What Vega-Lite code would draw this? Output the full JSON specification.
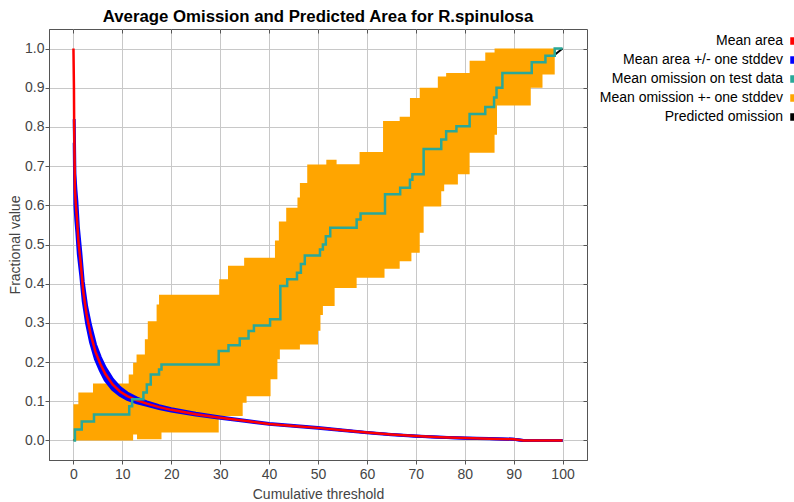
{
  "$schema": "https://vega.github.io/schema/vega-lite/v6.json",
  "width": 538,
  "height": 431,
  "autosize": {"type": "none"},
  "padding": {"left": 49, "top": 29, "right": 207, "bottom": 42},
  "background": "white",
  "title": {
    "text": "Average Omission and Predicted Area for R.spinulosa",
    "font": "Liberation Sans",
    "fontSize": 16.8,
    "fontWeight": "bold",
    "color": "#000000",
    "anchor": "middle",
    "frame": "group",
    "offset": 3
  },
  "config": {
    "view": {"stroke": "#555555", "strokeWidth": 1},
    "axis": {
      "labelFont": "Liberation Sans",
      "labelFontSize": 14,
      "labelColor": "#444444",
      "titleFont": "Liberation Sans",
      "titleFontSize": 14,
      "titleFontWeight": "normal",
      "titleColor": "#444444",
      "gridColor": "#c8c8c8",
      "gridWidth": 1,
      "tickColor": "#555555",
      "domainColor": "#555555",
      "tickSize": 4
    }
  },
  "datasets": {
    "area": [
      {"x": 0, "mean": 1.0, "lo": null, "hi": null},
      {"x": 0.1, "mean": 0.9, "lo": null, "hi": null},
      {"x": 0.15, "mean": 0.8, "lo": 0.76, "hi": 0.82},
      {"x": 0.3, "mean": 0.64, "lo": 0.6, "hi": 0.68},
      {"x": 0.5, "mean": 0.6, "lo": 0.56, "hi": 0.64},
      {"x": 0.7, "mean": 0.57, "lo": 0.53, "hi": 0.61},
      {"x": 1.0, "mean": 0.51, "lo": 0.475, "hi": 0.545},
      {"x": 1.5, "mean": 0.45, "lo": 0.42, "hi": 0.48},
      {"x": 2.0, "mean": 0.38, "lo": 0.355, "hi": 0.405},
      {"x": 2.7, "mean": 0.32, "lo": 0.298, "hi": 0.342},
      {"x": 3.5, "mean": 0.272, "lo": 0.25, "hi": 0.294},
      {"x": 4.5, "mean": 0.226, "lo": 0.207, "hi": 0.245},
      {"x": 5.5, "mean": 0.195, "lo": 0.178, "hi": 0.212},
      {"x": 6.5, "mean": 0.17, "lo": 0.154, "hi": 0.186},
      {"x": 8, "mean": 0.143, "lo": 0.13, "hi": 0.156},
      {"x": 9.5, "mean": 0.125, "lo": 0.115, "hi": 0.135},
      {"x": 11, "mean": 0.113, "lo": 0.105, "hi": 0.121},
      {"x": 13, "mean": 0.102, "lo": 0.096, "hi": 0.108},
      {"x": 15, "mean": 0.094, "lo": 0.0895, "hi": 0.0985},
      {"x": 17.5, "mean": 0.085, "lo": 0.0815, "hi": 0.0885},
      {"x": 20, "mean": 0.078, "lo": 0.075, "hi": 0.081},
      {"x": 25, "mean": 0.067, "lo": 0.0648, "hi": 0.0692},
      {"x": 30, "mean": 0.058, "lo": 0.0563, "hi": 0.0597},
      {"x": 35, "mean": 0.05, "lo": 0.0488, "hi": 0.0512},
      {"x": 40, "mean": 0.042, "lo": 0.041, "hi": 0.043},
      {"x": 45, "mean": 0.037, "lo": 0.0362, "hi": 0.0378},
      {"x": 50, "mean": 0.032, "lo": 0.0313, "hi": 0.0327},
      {"x": 55, "mean": 0.026, "lo": 0.0254, "hi": 0.0266},
      {"x": 60, "mean": 0.02, "lo": 0.0195, "hi": 0.0205},
      {"x": 65, "mean": 0.015, "lo": 0.0146, "hi": 0.0154},
      {"x": 70, "mean": 0.011, "lo": 0.0107, "hi": 0.0113},
      {"x": 75, "mean": 0.008, "lo": 0.0078, "hi": 0.0082},
      {"x": 80, "mean": 0.006, "lo": 0.0058, "hi": 0.0062},
      {"x": 85, "mean": 0.0045, "lo": 0.0044, "hi": 0.0046},
      {"x": 90, "mean": 0.003, "lo": 0.003, "hi": 0.003},
      {"x": 92, "mean": 0, "lo": 0, "hi": 0},
      {"x": 100, "mean": 0, "lo": 0, "hi": 0}
    ],
    "omissionBand": [
      {"x": 0, "lo": 0, "hi": 0.092},
      {"x": 1.0, "lo": 0, "hi": 0.122},
      {"x": 4.0, "lo": 0, "hi": 0.145},
      {"x": 11.3, "lo": 0, "hi": 0.168},
      {"x": 12.2, "lo": 0.015, "hi": 0.198},
      {"x": 12.9, "lo": 0.015, "hi": 0.219},
      {"x": 13.0, "lo": 0.003, "hi": 0.219},
      {"x": 14.6, "lo": 0.003, "hi": 0.258},
      {"x": 15.2, "lo": 0.003, "hi": 0.304},
      {"x": 17.0, "lo": 0.003, "hi": 0.347},
      {"x": 17.5, "lo": 0.003, "hi": 0.372},
      {"x": 18.0, "lo": 0.02, "hi": 0.372},
      {"x": 29.7, "lo": 0.062, "hi": 0.372},
      {"x": 29.8, "lo": 0.062, "hi": 0.411},
      {"x": 31.6, "lo": 0.062, "hi": 0.446},
      {"x": 34.6, "lo": 0.096, "hi": 0.446},
      {"x": 34.9, "lo": 0.096, "hi": 0.466},
      {"x": 35.4, "lo": 0.113, "hi": 0.466},
      {"x": 40.3, "lo": 0.156, "hi": 0.466},
      {"x": 41.2, "lo": 0.156, "hi": 0.51},
      {"x": 41.7, "lo": 0.207, "hi": 0.51},
      {"x": 42.0, "lo": 0.207, "hi": 0.559},
      {"x": 42.2, "lo": 0.232, "hi": 0.559},
      {"x": 43.5, "lo": 0.232, "hi": 0.594},
      {"x": 45.8, "lo": 0.232, "hi": 0.62},
      {"x": 46.3, "lo": 0.245, "hi": 0.657},
      {"x": 47.8, "lo": 0.245, "hi": 0.704},
      {"x": 50.0, "lo": 0.28, "hi": 0.704},
      {"x": 50.5, "lo": 0.32, "hi": 0.704},
      {"x": 51.0, "lo": 0.343, "hi": 0.704},
      {"x": 51.7, "lo": 0.343, "hi": 0.716},
      {"x": 53.4, "lo": 0.389, "hi": 0.716},
      {"x": 53.8, "lo": 0.389, "hi": 0.705},
      {"x": 57.9, "lo": 0.415, "hi": 0.705},
      {"x": 58.5, "lo": 0.415, "hi": 0.736},
      {"x": 63.3, "lo": 0.415, "hi": 0.815},
      {"x": 63.6, "lo": 0.438, "hi": 0.815},
      {"x": 66.7, "lo": 0.457, "hi": 0.826},
      {"x": 68.8, "lo": 0.457, "hi": 0.874},
      {"x": 69.1, "lo": 0.479, "hi": 0.874},
      {"x": 70.8, "lo": 0.53, "hi": 0.9},
      {"x": 71.6, "lo": 0.597, "hi": 0.9},
      {"x": 74.5, "lo": 0.597, "hi": 0.929},
      {"x": 75.2, "lo": 0.636, "hi": 0.929},
      {"x": 75.8, "lo": 0.653, "hi": 0.929},
      {"x": 76.2, "lo": 0.653, "hi": 0.938},
      {"x": 78.6, "lo": 0.679, "hi": 0.938},
      {"x": 81.0, "lo": 0.734, "hi": 0.969},
      {"x": 84.2, "lo": 0.734, "hi": 0.99},
      {"x": 86.1, "lo": 0.78, "hi": 1.0},
      {"x": 86.6, "lo": 0.855, "hi": 1.0},
      {"x": 93.5, "lo": 0.9, "hi": 1.0},
      {"x": 95.9, "lo": 0.934, "hi": 1.0},
      {"x": 98.4, "lo": 1.0, "hi": 1.0}
    ],
    "testOmission": [
      {"x": 0, "value": 0},
      {"x": 0.3, "value": 0.028},
      {"x": 1.7, "value": 0.048},
      {"x": 4.2, "value": 0.066},
      {"x": 11.4, "value": 0.087},
      {"x": 12.0, "value": 0.105},
      {"x": 14.3, "value": 0.122},
      {"x": 15.0, "value": 0.143},
      {"x": 15.8, "value": 0.168},
      {"x": 17.5, "value": 0.181},
      {"x": 18.0, "value": 0.194},
      {"x": 29.7, "value": 0.228},
      {"x": 31.7, "value": 0.243},
      {"x": 34.0, "value": 0.26},
      {"x": 35.8, "value": 0.279},
      {"x": 36.9, "value": 0.293},
      {"x": 40.2, "value": 0.309},
      {"x": 42.3, "value": 0.394},
      {"x": 43.7, "value": 0.411},
      {"x": 45.7, "value": 0.428},
      {"x": 46.5, "value": 0.45},
      {"x": 47.3, "value": 0.472},
      {"x": 50.4, "value": 0.487},
      {"x": 51.0, "value": 0.5},
      {"x": 51.6, "value": 0.521},
      {"x": 52.5, "value": 0.543},
      {"x": 57.9, "value": 0.564},
      {"x": 58.7, "value": 0.579},
      {"x": 63.7, "value": 0.628},
      {"x": 66.8, "value": 0.645},
      {"x": 68.8, "value": 0.665},
      {"x": 69.3, "value": 0.679},
      {"x": 71.6, "value": 0.744},
      {"x": 75.2, "value": 0.768},
      {"x": 76.2, "value": 0.789},
      {"x": 78.3, "value": 0.802},
      {"x": 81.0, "value": 0.833},
      {"x": 84.2, "value": 0.851},
      {"x": 86.0, "value": 0.875},
      {"x": 86.5, "value": 0.9},
      {"x": 87.7, "value": 0.938},
      {"x": 93.7, "value": 0.965},
      {"x": 96.5, "value": 0.982},
      {"x": 98.4, "value": 1.0},
      {"x": 100, "value": 1.0}
    ],
    "predicted": [
      {"x": 0, "value": 0},
      {"x": 100, "value": 1}
    ]
  },
  "resolve": {"axis": {"x": "independent", "y": "independent"}},
  "layer": [
    {
      "data": {"name": "predicted"},
      "mark": {"type": "line", "strokeWidth": 2},
      "encoding": {
        "x": {
          "field": "x", "type": "quantitative",
          "scale": {"domain": [-5, 105], "nice": false, "zero": false},
          "axis": {
            "orient": "bottom",
            "values": [0, 10, 20, 30, 40, 50, 60, 70, 80, 90, 100],
            "grid": true,
            "title": "Cumulative threshold",
            "labelPadding": 3,
            "titlePadding": 6
          }
        },
        "y": {
          "field": "value", "type": "quantitative",
          "scale": {"domain": [-0.05, 1.05], "nice": false, "zero": false},
          "axis": {
            "orient": "left",
            "values": [0, 0.1, 0.2, 0.3, 0.4, 0.5, 0.6, 0.7, 0.8, 0.9, 1.0],
            "format": ".1f",
            "grid": true,
            "title": "Fractional value",
            "labelPadding": 1,
            "titlePadding": 2
          }
        },
        "color": {
          "datum": "Predicted omission",
          "scale": {
            "domain": ["Mean area", "Mean area +/- one stddev", "Mean omission on test data", "Mean omission +- one stddev", "Predicted omission"],
            "range": ["#ff0000", "#0000ff", "#2aa898", "#ffa500", "#000000"]
          },
          "legend": {
            "orient": "none",
            "legendX": 738,
            "legendY": 5,
            "title": null,
            "direction": "vertical",
            "labelAlign": "right",
            "labelOffset": -18,
            "labelFont": "Liberation Sans",
            "labelFontSize": 14,
            "labelColor": "#000000",
            "labelLimit": 400,
            "symbolType": "square",
            "symbolSize": 36,
            "rowPadding": 5,
            "encode": {
              "symbols": {
                "update": {
                  "shape": {"value": "square"},
                  "fill": {"scale": "color", "field": "value"},
                  "stroke": {"value": "transparent"},
                  "size": {"value": 36}
                }
              }
            }
          }
        }
      }
    },
    {
      "data": {"name": "omissionBand"},
      "mark": {"type": "area", "interpolate": "step-after", "opacity": 1},
      "encoding": {
        "x": {
          "field": "x", "type": "quantitative",
          "scale": {"domain": [-5, 105], "nice": false, "zero": false},
          "axis": {
            "orient": "top",
            "values": [0, 10, 20, 30, 40, 50, 60, 70, 80, 90, 100],
            "labels": false,
            "grid": false,
            "domain": false,
            "tickSize": -4,
            "title": null
          }
        },
        "y": {
          "field": "hi", "type": "quantitative",
          "scale": {"domain": [-0.05, 1.05], "nice": false, "zero": false},
          "axis": {
            "orient": "right",
            "values": [0, 0.1, 0.2, 0.3, 0.4, 0.5, 0.6, 0.7, 0.8, 0.9, 1.0],
            "labels": false,
            "grid": false,
            "domain": false,
            "tickSize": -4,
            "title": null
          }
        },
        "y2": {"field": "lo"},
        "color": {"datum": "Mean omission +- one stddev"}
      }
    },
    {
      "data": {"name": "area"},
      "mark": {"type": "area", "opacity": 1},
      "encoding": {
        "x": {"field": "x", "type": "quantitative", "scale": {"domain": [-5, 105], "nice": false, "zero": false}, "axis": null},
        "y": {"field": "hi", "type": "quantitative", "scale": {"domain": [-0.05, 1.05], "nice": false, "zero": false}, "axis": null},
        "y2": {"field": "lo"},
        "color": {"datum": "Mean area +/- one stddev"}
      }
    },
    {
      "data": {"name": "area"},
      "mark": {"type": "line", "strokeWidth": 3},
      "encoding": {
        "x": {"field": "x", "type": "quantitative", "scale": {"domain": [-5, 105], "nice": false, "zero": false}, "axis": null},
        "y": {"field": "hi", "type": "quantitative", "scale": {"domain": [-0.05, 1.05], "nice": false, "zero": false}, "axis": null},
        "color": {"datum": "Mean area +/- one stddev"}
      }
    },
    {
      "data": {"name": "area"},
      "mark": {"type": "line", "strokeWidth": 3},
      "encoding": {
        "x": {"field": "x", "type": "quantitative", "scale": {"domain": [-5, 105], "nice": false, "zero": false}, "axis": null},
        "y": {"field": "lo", "type": "quantitative", "scale": {"domain": [-0.05, 1.05], "nice": false, "zero": false}, "axis": null},
        "color": {"datum": "Mean area +/- one stddev"}
      }
    },
    {
      "data": {"name": "area"},
      "mark": {"type": "line", "strokeWidth": 2.5},
      "encoding": {
        "x": {"field": "x", "type": "quantitative", "scale": {"domain": [-5, 105], "nice": false, "zero": false}, "axis": null},
        "y": {"field": "mean", "type": "quantitative", "scale": {"domain": [-0.05, 1.05], "nice": false, "zero": false}, "axis": null},
        "color": {"datum": "Mean area"}
      }
    },
    {
      "data": {"name": "testOmission"},
      "mark": {"type": "line", "interpolate": "step-after", "strokeWidth": 2.5},
      "encoding": {
        "x": {"field": "x", "type": "quantitative", "scale": {"domain": [-5, 105], "nice": false, "zero": false}, "axis": null},
        "y": {"field": "value", "type": "quantitative", "scale": {"domain": [-0.05, 1.05], "nice": false, "zero": false}, "axis": null},
        "color": {"datum": "Mean omission on test data"}
      }
    }
  ]
}
